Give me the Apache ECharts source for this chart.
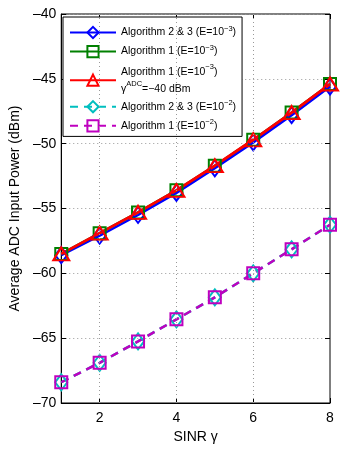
<!DOCTYPE html>
<html><head><meta charset="utf-8">
<script src="https://cdn.jsdelivr.net/npm/echarts@6/dist/echarts.min.js"></script>
<style>html,body{margin:0;padding:0;background:#fff}#c{width:364px;height:449px}</style>
</head><body><div id="c"></div>
<script>
const sinr = [1, 2, 3, 4, 5, 6, 7, 8];
const alg23_e3 = [-58.6, -57.1, -55.5, -53.8, -51.9, -49.9, -47.8, -45.6];
const alg1_e3 = [-58.5, -56.9, -55.3, -53.6, -51.7, -49.7, -47.6, -45.4];
const alg1_e3_adc = [-58.5, -56.9, -55.3, -53.6, -51.7, -49.7, -47.6, -45.4];
const alg23_e2 = [-68.4, -66.9, -65.25, -63.55, -61.85, -60.0, -58.15, -56.25];
const alg1_e2 = [-68.4, -66.9, -65.25, -63.55, -61.85, -60.0, -58.15, -56.25];
const xTicks = [2, 4, 6, 8];
const xGridLines = [2, 4, 6];

const FONT = 'Liberation Sans';
const pairs = a => sinr.map((x, i) => [x, a[i]]);
const names = ['a23e3', 'a1e3', 'a1e3adc', 'a23e2', 'a1e2'];
const labels = {
  a23e3: '{t|Algorithm 2 & 3 (E=10}{s|−3}{t|)}',
  a1e3: '{t|Algorithm 1 (E=10}{s|−3}{t|)}',
  a1e3adc: '{u|Algorithm 1 (E=10}{v|−3}{u|)}\n{u|γ}{v|ADC}{u|=−40 dBm}',
  a23e2: '{t|Algorithm 2 & 3 (E=10}{s|−2}{t|)}',
  a1e2: '{t|Algorithm 1 (E=10}{s|−2}{t|)}'
};
function mk(name, data, color, symbol, size, dashed) {
  return {
    name, type: 'line', data: pairs(data), symbol, symbolSize: size,
    showSymbol: true,
    lineStyle: { color, width: 2.5, type: dashed ? [8, 6] : 'solid' },
    itemStyle: { color: 'rgba(255,255,255,0)', borderColor: color, borderWidth: 2 },
    emphasis: { disabled: true }, animation: false
  };
}
const series = [
  mk('a23e3', alg23_e3, '#0000ff', 'diamond', [12, 16], false),
  mk('a1e3', alg1_e3, '#008000', 'rect', 12, false),
  mk('a1e3adc', alg1_e3_adc, '#ff0000', 'triangle', [16, 13], false),
  mk('a23e2', alg23_e2, '#00bfbf', 'diamond', [12, 16], true),
  mk('a1e2', alg1_e2, '#bf00bf', 'rect', 12, true)
];
series[2].lineStyle.width = 2.8;
series[0].markLine = {
  silent: true, symbol: 'none', label: { show: false },
  lineStyle: { color: '#999', width: 1, type: [1, 3] },
  data: xGridLines.map(v => ({ xAxis: v })), animation: false
};

const tickStyle = { show: true, inside: true, length: 5, lineStyle: { color: '#000', width: 1 } };
const chart = echarts.init(document.getElementById('c'));
chart.setOption({
  animation: false,
  grid: { left: 58, right: 34, top: 14, bottom: 46, show: true, borderColor: '#000', borderWidth: 1, backgroundColor: '#fff' },
  xAxis: [{
    type: 'value', min: 1, max: 8,
    name: 'SINR γ', nameLocation: 'middle', nameGap: 26,
    nameTextStyle: { fontFamily: FONT, fontSize: 14, color: '#000' },
    axisLine: { show: true, lineStyle: { color: '#000' } },
    axisTick: Object.assign({ customValues: xTicks }, tickStyle),
    axisLabel: { customValues: xTicks, fontFamily: FONT, fontSize: 14, color: '#000', margin: 8 },
    splitLine: { show: false }
  }, {
    type: 'value', min: 1, max: 8, position: 'top',
    axisLine: { show: false },
    axisTick: Object.assign({ customValues: xTicks }, tickStyle),
    axisLabel: { show: false }, splitLine: { show: false }
  }],
  yAxis: [{
    type: 'value', min: -70, max: -40, interval: 5,
    name: 'Average ADC Input Power (dBm)', nameLocation: 'middle', nameGap: 39,
    nameTextStyle: { fontFamily: FONT, fontSize: 14, color: '#000' },
    axisLine: { show: true, lineStyle: { color: '#000' } },
    axisTick: tickStyle,
    axisLabel: { fontFamily: FONT, fontSize: 14, color: '#000', margin: 5, formatter: v => String(v).replace('-', '–') },
    splitLine: { show: true, lineStyle: { color: '#999', width: 1, type: [1, 3] } }
  }, {
    type: 'value', min: -70, max: -40, interval: 5, position: 'right',
    axisLine: { show: false }, axisTick: tickStyle,
    axisLabel: { show: false }, splitLine: { show: false }
  }],
  legend: {
    data: names, orient: 'vertical', left: 63, top: 17,
    padding: [8, 6, 4, 6], itemGap: 5, itemWidth: 46, itemHeight: 14,
    backgroundColor: '#fff', borderColor: '#000', borderWidth: 1,
    selectedMode: false,
    formatter: n => labels[n],
    textStyle: {
      fontFamily: FONT, color: '#000',
      rich: {
        t: { fontFamily: FONT, fontSize: 10.5, lineHeight: 15, color: '#000' },
        s: { fontFamily: FONT, fontSize: 7.5, lineHeight: 9, verticalAlign: 'top', color: '#000' },
        u: { fontFamily: FONT, fontSize: 10.5, lineHeight: 17, color: '#000' },
        v: { fontFamily: FONT, fontSize: 7.5, lineHeight: 10, verticalAlign: 'top', color: '#000' }
      }
    }
  },
  series
});
</script></body></html>
